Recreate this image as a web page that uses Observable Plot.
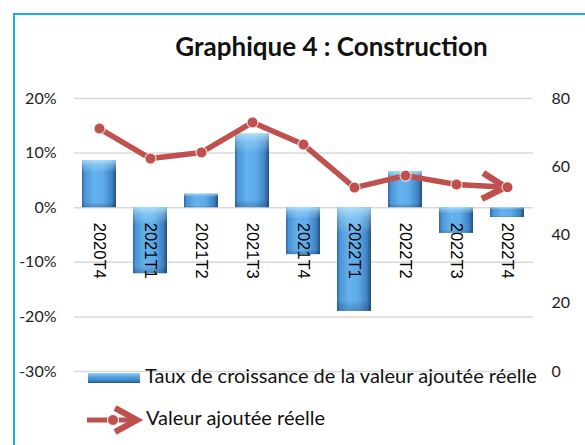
<!DOCTYPE html>
<html>
<head>
<meta charset="utf-8">
<script src="https://cdn.jsdelivr.net/npm/d3@7"></script>
<script src="https://cdn.jsdelivr.net/npm/@observablehq/plot@0.6"></script>
<style>
  body { margin: 0; background: #fff; }
  #wrap { position: relative; width: 585px; height: 445px; overflow: hidden; font-family: Lato, sans-serif; color: #111; }
  #frame { position: absolute; left: 13px; top: 13px; width: 700px; height: 600px; border-left: 2px solid #1aaee8; border-top: 2px solid #1aaee8; }
  #title { position: absolute; left: 0; top: 31px; width: 663px; text-align: center; font-weight: bold; font-size: 26px; line-height: 31px; white-space: nowrap; }
  #chart { position: absolute; left: 0; top: 60px; }
  .leg { position: absolute; font-size: 20px; line-height: 24px; white-space: nowrap; }
  #sw1 { position: absolute; left: 88px; top: 373px; width: 52px; height: 10px; background: linear-gradient(to bottom, #9ad2f4 0%, #5aa6e2 35%, #3f86c8 75%, #24548a 100%); }
  #sw2 { position: absolute; left: 84px; top: 405px; }
</style>
</head>
<body>
<div id="wrap">
  <div id="frame"></div>
  <div id="title">Graphique 4 : Construction</div>
  <div id="chart"></div>
  <div id="sw1"></div>
  <div class="leg" style="left:145px; top:363px;">Taux de croissance de la valeur ajoutée réelle</div>
  <svg id="sw2" width="60" height="30">
    <line x1="3" y1="15" x2="48" y2="15" stroke="#c0504d" stroke-width="5"/>
    <circle cx="29" cy="15" r="5.5" fill="#c0504d" stroke="#fff" stroke-width="1"/>
    <path d="M31,3 L53,15 L31,27" fill="none" stroke="#c0504d" stroke-width="6"/>
  </svg>
  <div class="leg" style="left:146px; top:405px;">Valeur ajoutée réelle</div>
</div>
<script>
const categories = ["2020T4","2021T1","2021T2","2021T3","2021T4","2022T1","2022T2","2022T3","2022T4"];
const growth = [8.6, -12.1, 2.5, 13.5, -8.6, -19.0, 6.6, -4.7, -1.8];   // % (left axis)
const realValue = [71.2, 62.4, 64.2, 73.0, 66.5, 53.9, 57.4, 54.8, 54.0]; // right axis
const leftTicks = [-30, -20, -10, 0, 10, 20];
const rightTicks = [0, 20, 40, 60, 80];

const table = categories.map((c, i) => ({cat: c, growth: growth[i], value: realValue[i]}));
const toLeft = v => -30 + v * 50 / 80;
const fromLeft = d => (d + 30) * 80 / 50;

const plot = Plot.plot({
  width: 585, height: 385,
  marginTop: 38, marginBottom: 74, marginLeft: 74, marginRight: 52,
  style: {fontFamily: "Lato, sans-serif", fontSize: "16px", background: "transparent", color: "#222"},
  x: {type: "band", domain: categories, paddingInner: 0.33, paddingOuter: 0.165, axis: null},
  y: {domain: [-30, 20]},
  marks: [
    Plot.ruleY(leftTicks, {stroke: "#d9d9d9", strokeWidth: 1.5}),
    Plot.axisY(leftTicks, {anchor: "left", tickSize: 0, tickPadding: 18, tickFormat: d => d + "%", fontSize: 16, fill: "#222", label: null}),
    Plot.axisY(rightTicks.map(toLeft), {anchor: "right", tickSize: 0, tickPadding: 18, tickFormat: d => String(Math.round(fromLeft(d))), fontSize: 16, fill: "#222", label: null}),
    Plot.barY(table, {x: "cat", y: "growth", fill: "url(#barGrad)"}),
    Plot.barY(table, {x: "cat", y: "growth", fill: "url(#barHi)"}),
    Plot.text(table, {x: "cat", y: () => 0, text: "cat", rotate: 90, textAnchor: "start", lineAnchor: "middle", dy: 15, fontSize: 16.5, fontFamily: "Liberation Sans, Arial, sans-serif", fill: "#000", ariaLabel: "xlabels"}),
    Plot.line(table, {x: "cat", y: d => toLeft(d.value), stroke: "#c0504d", strokeWidth: 5.5, markerEnd: "arrow"}),
    Plot.dot(table, {x: "cat", y: d => toLeft(d.value), r: 5.5, fill: "#c0504d", stroke: "#fff", strokeWidth: 1})
  ]
});

const svg = d3.select(plot);
const defs = svg.insert("defs", ":first-child");
const g1 = defs.append("linearGradient").attr("id", "barGrad").attr("x1", 0).attr("x2", 1).attr("y1", 0).attr("y2", 0);
[[0, "#2d67a3"], [0.08, "#4b94d5"], [0.35, "#64b2ee"], [0.62, "#5eabe9"], [0.88, "#3f82c2"], [1, "#254e7c"]]
  .forEach(([o, c]) => g1.append("stop").attr("offset", o).attr("stop-color", c));
const g2 = defs.append("linearGradient").attr("id", "barHi").attr("x1", 0).attr("x2", 0).attr("y1", 0).attr("y2", 1);
[[0, "#c8f0ff", 0.75], [0.12, "#b0e4ff", 0.35], [0.25, "#ffffff", 0], [0.9, "#000000", 0], [1, "#0a2a50", 0.25]]
  .forEach(([o, c, a]) => g2.append("stop").attr("offset", o).attr("stop-color", c).attr("stop-opacity", a));

// chevron arrowhead at the end of the line
const mk = plot.querySelector("marker");
if (mk) {
  mk.setAttribute("markerUnits", "userSpaceOnUse");
  mk.setAttribute("viewBox", "-32 -18 40 36");
  mk.setAttribute("markerWidth", 40);
  mk.setAttribute("markerHeight", 36);
  mk.setAttribute("overflow", "visible");
  mk.setAttribute("stroke-width", 6.5);
  mk.setAttribute("stroke-linecap", "butt");
  mk.setAttribute("stroke-linejoin", "miter");
  const p = mk.querySelector("path");
  if (p) p.setAttribute("d", "M-25,-13 L-2,0 L-25,13");
}

// stretch rotated category labels across the glyph height
svg.selectAll('g[aria-label="xlabels"] text').attr("transform", function() {
  return (this.getAttribute("transform") || "") + " scale(1,1.3)";
});

document.getElementById("chart").appendChild(plot);
</script>
</body>
</html>
